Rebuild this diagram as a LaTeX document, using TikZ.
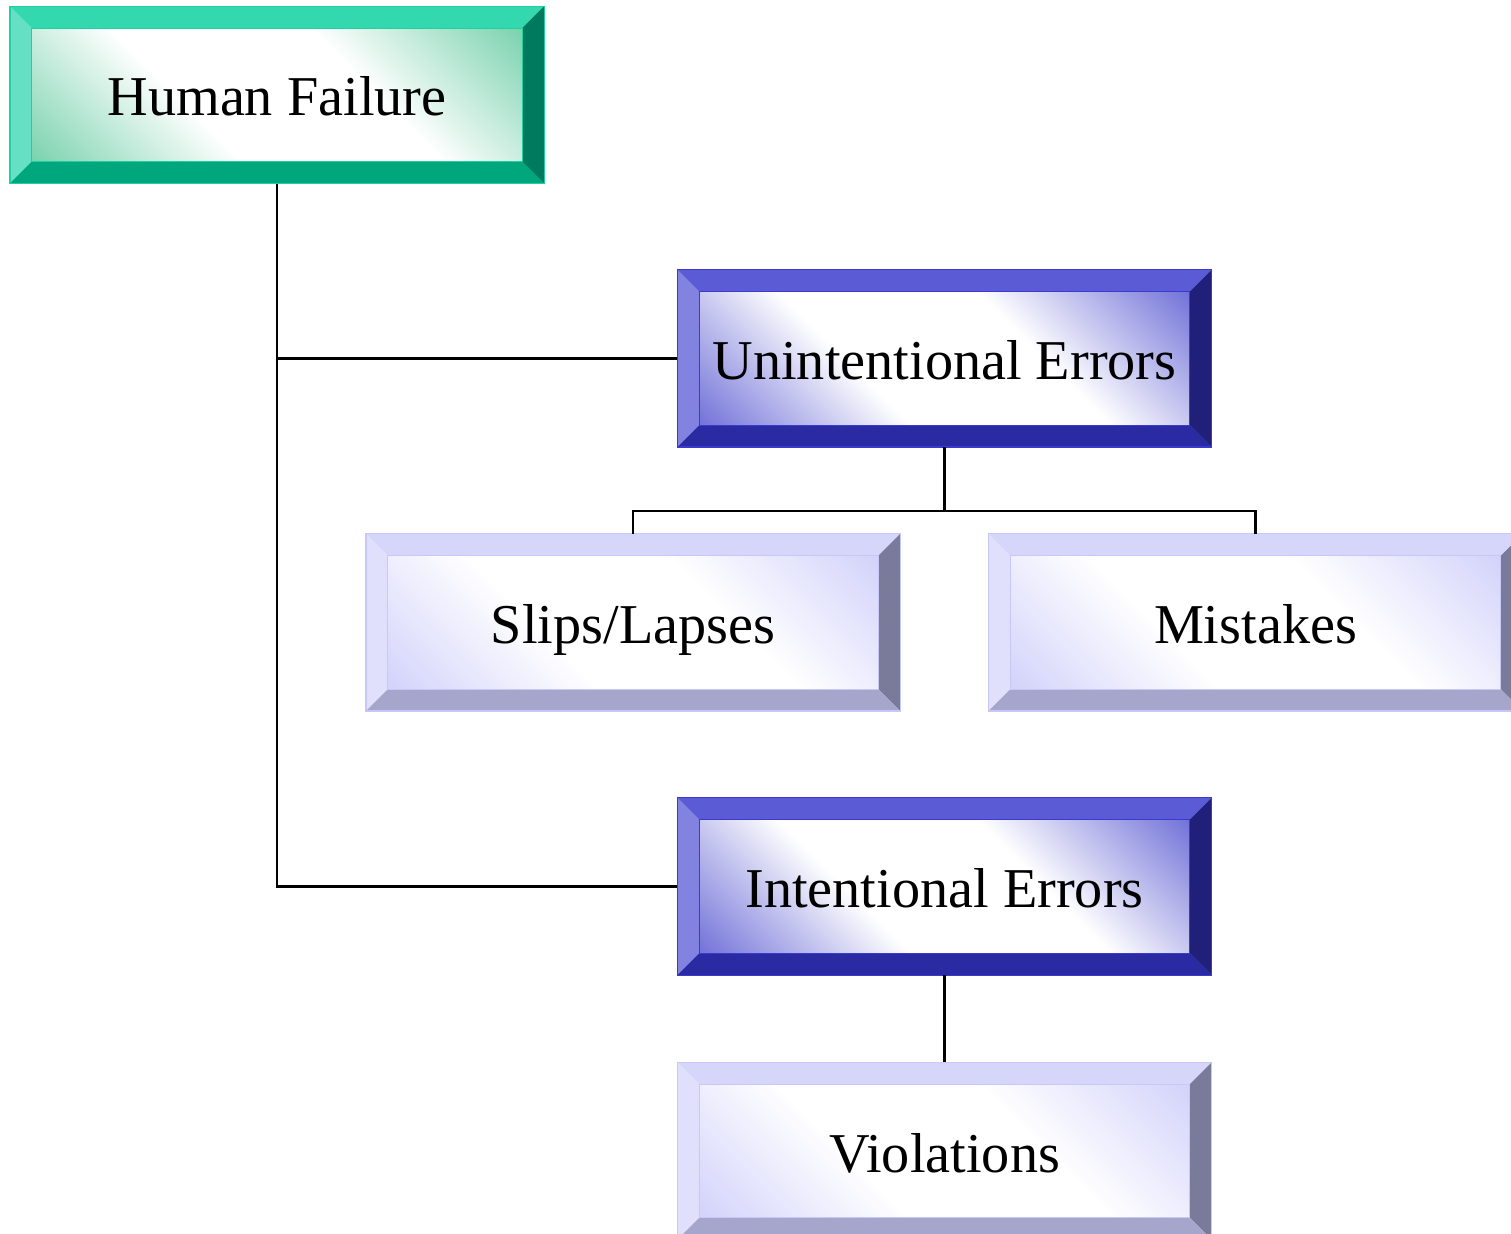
\documentclass[tikz,border=0pt]{standalone}
\usepackage{fontspec}
\setmainfont{Liberation Serif}
\usetikzlibrary{calc}
\usetikzlibrary{positioning}
\definecolor{hfTop}{HTML}{33D8AE}
\definecolor{hfLeft}{HTML}{66E0C4}
\definecolor{hfRight}{HTML}{007A5E}
\definecolor{hfBottom}{HTML}{00A67C}
\definecolor{hfEdge}{HTML}{20D0A0}
\definecolor{hfShade}{HTML}{5CC89C}
\definecolor{erTop}{HTML}{5B5BD6}
\definecolor{erLeft}{HTML}{8282E0}
\definecolor{erRight}{HTML}{20207A}
\definecolor{erBottom}{HTML}{2A2AA2}
\definecolor{erEdge}{HTML}{3A3AD0}
\definecolor{erShade}{HTML}{5252D0}
\definecolor{sbTop}{HTML}{D6D6FA}
\definecolor{sbLeft}{HTML}{E0E0FC}
\definecolor{sbRight}{HTML}{7A7A9A}
\definecolor{sbBottom}{HTML}{A6A6CC}
\definecolor{sbEdge}{HTML}{C8C8F8}
\definecolor{sbShade}{HTML}{C8C8FA}
\pgfdeclareverticalshading{hfface}{100bp}{color(0bp)=(hfShade); color(14bp)=(hfShade); color(40bp)=(white); color(60bp)=(white); color(86bp)=(hfShade); color(100bp)=(hfShade)}
\pgfdeclareverticalshading{erface}{100bp}{color(0bp)=(erShade); color(14bp)=(erShade); color(40bp)=(white); color(60bp)=(white); color(86bp)=(erShade); color(100bp)=(erShade)}
\pgfdeclareverticalshading{sbface}{100bp}{color(0bp)=(sbShade); color(14bp)=(sbShade); color(40bp)=(white); color(60bp)=(white); color(86bp)=(sbShade); color(100bp)=(sbShade)}
\newcommand{\bev}{0.22}
\tikzset{block/.style = {rectangle, minimum width=5.33cm, minimum height=1.76cm, inner sep=0pt, text height=0.52cm, text depth=0.10cm, font=\fontsize{16}{19}\selectfont, shading angle=-45}}
\tikzset{hfblock/.style = {block, shading=hfface}}
\tikzset{erblock/.style = {block, shading=erface}}
\tikzset{sbblock/.style = {block, shading=sbface}}
\tikzset{link/.style = {-, draw=black, line width=0.6pt}}

\begin{document}
\begin{tikzpicture}
\useasboundingbox (0,0) rectangle (15.11,12.33);
\node [hfblock] (hf) at (2.77, 11.38) {Human Failure};
\node [erblock] (ue) at (9.445, 8.745) {Unintentional Errors};
\node [sbblock] (sl) at (6.33, 6.105) {Slips/Lapses};
\node [sbblock] (mi) at (12.555, 6.105) {Mistakes};
\node [erblock] (ie) at (9.445, 3.465) {Intentional Errors};
\node [sbblock] (vi) at (9.445, 0.82) {Violations};
% bevelled frames
\foreach \n/\ct/\cl/\cr/\cb/\ce in {hf/hfTop/hfLeft/hfRight/hfBottom/hfEdge, ue/erTop/erLeft/erRight/erBottom/erEdge, ie/erTop/erLeft/erRight/erBottom/erEdge, sl/sbTop/sbLeft/sbRight/sbBottom/sbEdge, mi/sbTop/sbLeft/sbRight/sbBottom/sbEdge, vi/sbTop/sbLeft/sbRight/sbBottom/sbEdge}{
  \fill [\ct] (\n.north west) -- (\n.north east) -- ($(\n.north east)+(-\bev,-\bev)$) -- ($(\n.north west)+(\bev,-\bev)$) -- cycle;
  \fill [\cl] (\n.north west) -- (\n.south west) -- ($(\n.south west)+(\bev,\bev)$) -- ($(\n.north west)+(\bev,-\bev)$) -- cycle;
  \fill [\cr] (\n.north east) -- (\n.south east) -- ($(\n.south east)+(-\bev,\bev)$) -- ($(\n.north east)+(-\bev,-\bev)$) -- cycle;
  \fill [\cb] (\n.south west) -- (\n.south east) -- ($(\n.south east)+(-\bev,\bev)$) -- ($(\n.south west)+(\bev,\bev)$) -- cycle;
  \draw [\ce, line width=0.4pt] (\n.north west) rectangle (\n.south east);
  \draw [\ce, line width=0.3pt] ($(\n.north west)+(\bev,-\bev)$) rectangle ($(\n.south east)+(-\bev,\bev)$);
}
% connectors
\draw [link] (hf.south) |- (ue.west);
\draw [link] (hf.south) |- (ie.west);
\draw [link] (ue.south) -- ++(0,-0.64) coordinate (fork) -| (sl.north);
\draw [link] (fork) -| (mi.north);
\draw [link] (ie.south) -- (vi.north);
\end{tikzpicture}
\end{document}
